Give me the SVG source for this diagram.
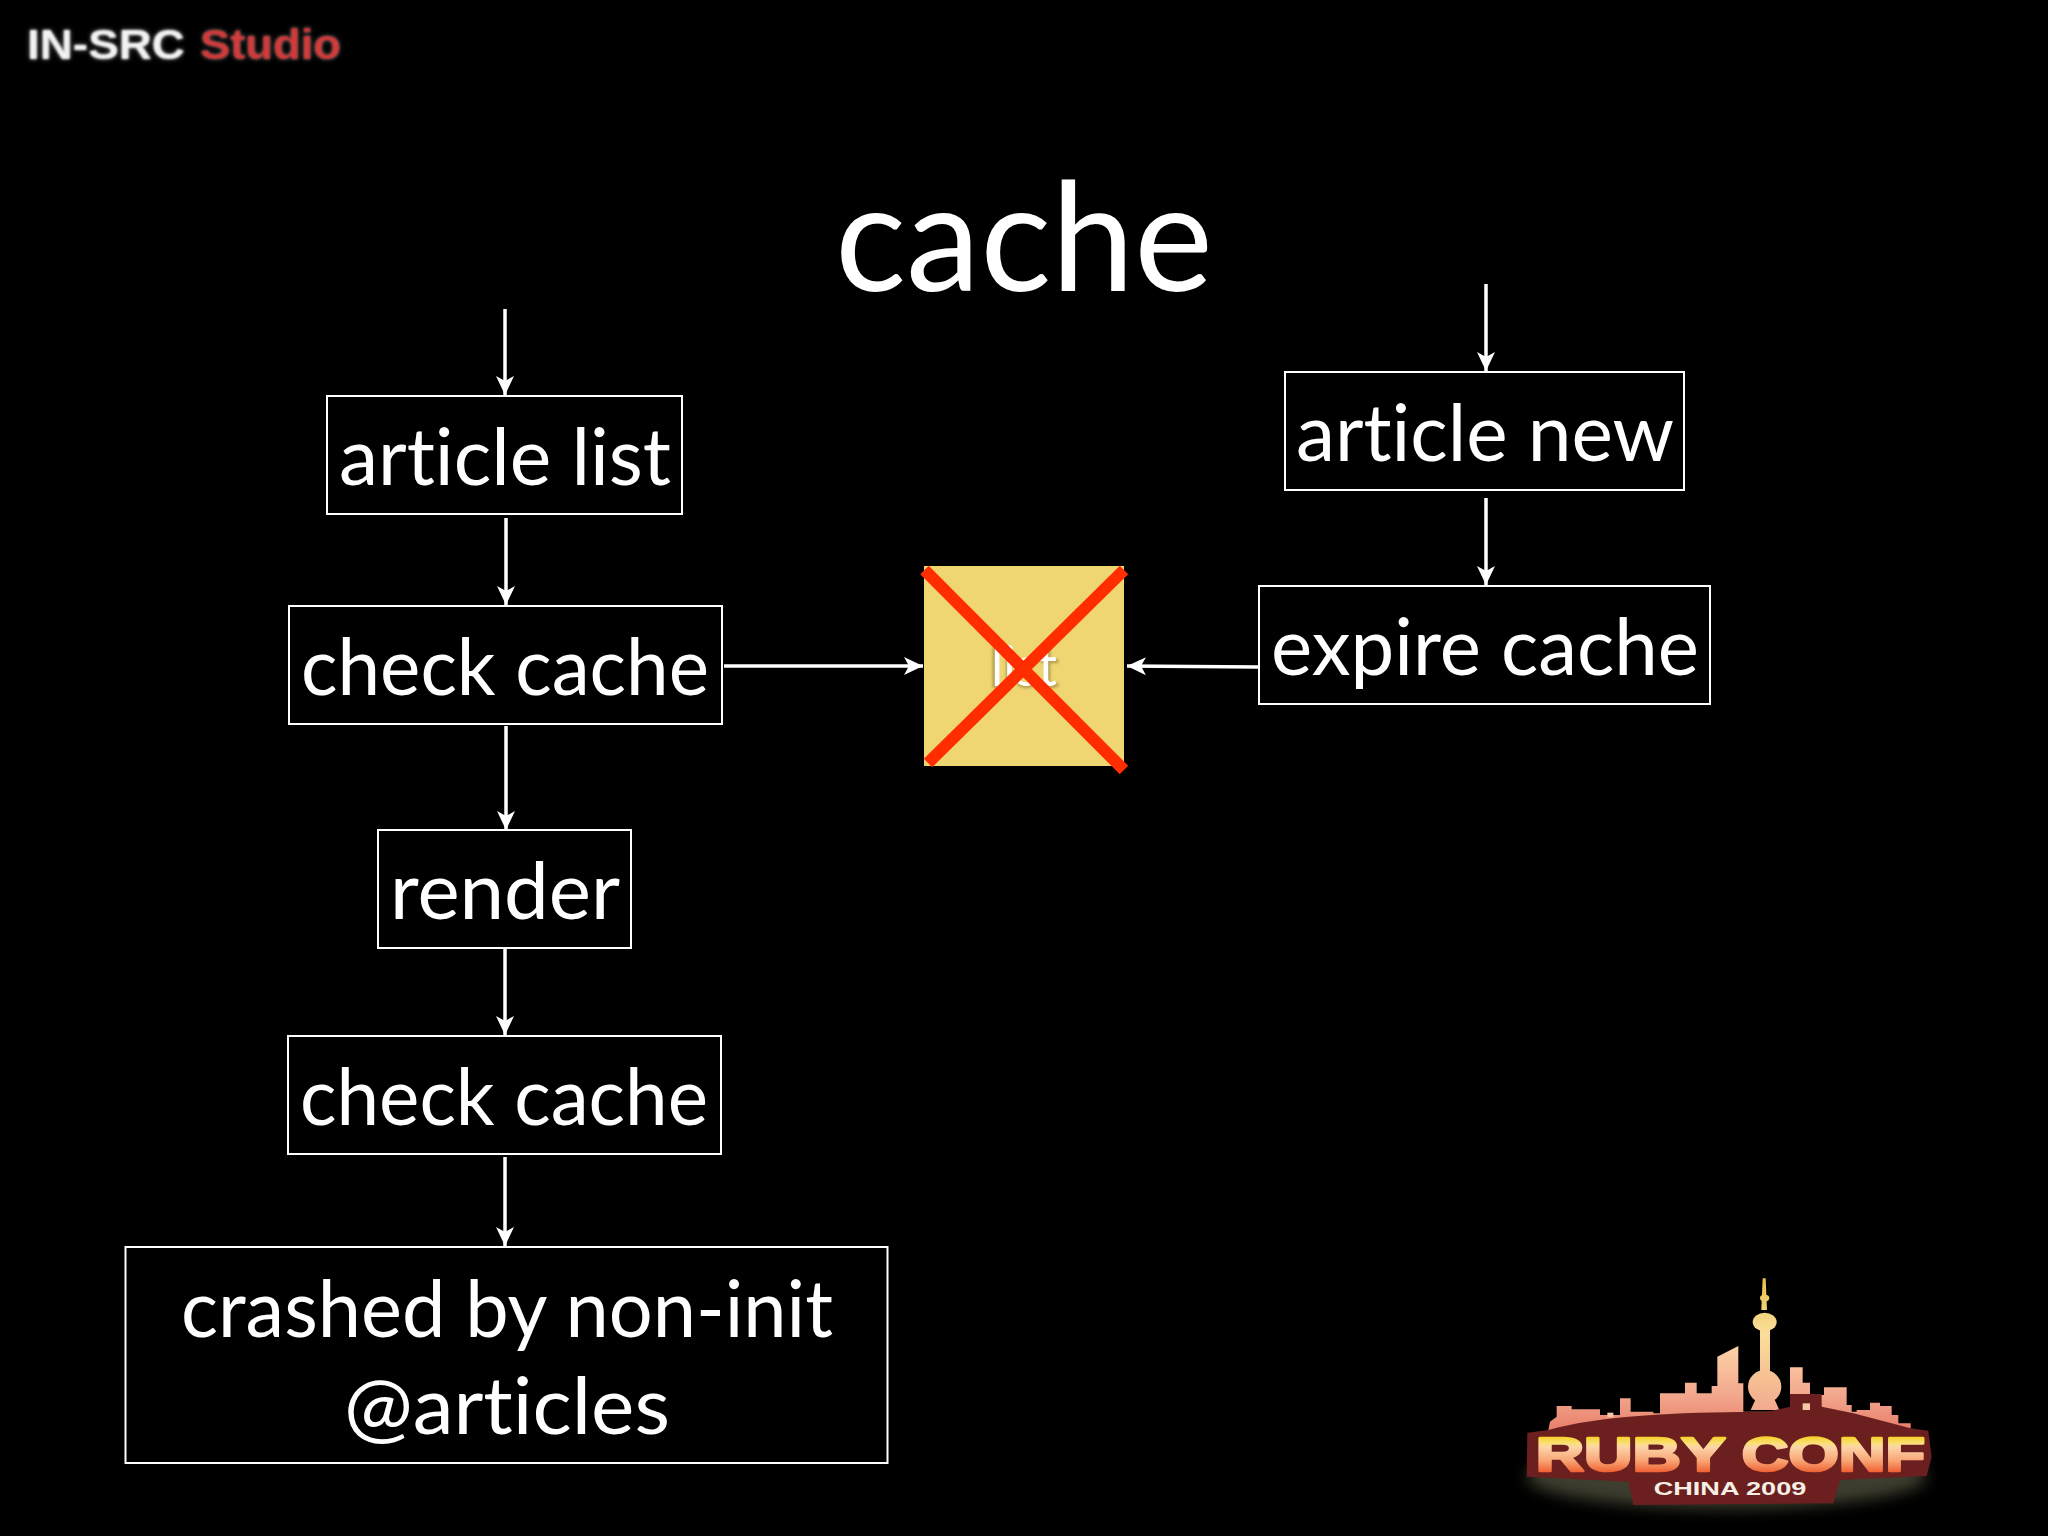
<svg xmlns="http://www.w3.org/2000/svg" width="2048" height="1536" viewBox="0 0 2048 1536">
<style>
text{font-variant-ligatures:none}
.box{fill:#000;stroke:#fff;stroke-width:2}
.t{font-family:"Lato","Noto Sans",sans-serif;font-size:79px;fill:#fff;text-anchor:middle}
.c{stroke:#fff;stroke-width:3.500;fill:none;marker-end:url(#a)}
.wm{font-family:"Liberation Sans",Arial,sans-serif;font-weight:700;font-size:42px}
.lg{font-family:"Liberation Sans",Arial,sans-serif;font-weight:700}
</style>
<defs>
<marker id="a" viewBox="0 0 20 20" refX="19" refY="10" markerWidth="20" markerHeight="20" markerUnits="userSpaceOnUse" orient="auto"><path d="M0 1 L19 10 L0 19 L5 10Z" fill="#fff"/></marker>
<filter id="b1" x="-20%" y="-50%" width="140%" height="200%"><feGaussianBlur stdDeviation="1.3"/></filter>
<filter id="b3" x="-20%" y="-50%" width="140%" height="200%"><feGaussianBlur stdDeviation="2.5"/></filter>
<filter id="glow" x="-20%" y="-40%" width="140%" height="180%"><feGaussianBlur stdDeviation="22"/></filter>
<filter id="tglow" x="-50%" y="-20%" width="200%" height="140%"><feGaussianBlur stdDeviation="9"/></filter>
<filter id="sh" x="-30%" y="-30%" width="160%" height="160%"><feGaussianBlur stdDeviation="1.5"/></filter>
<linearGradient id="txt" gradientUnits="userSpaceOnUse" x1="0" y1="528" x2="0" y2="640"><stop offset="0" stop-color="#f5cf1e"/><stop offset=".2" stop-color="#fbe07a"/><stop offset=".3" stop-color="#fcd4a8"/><stop offset=".65" stop-color="#f9a777"/><stop offset="1" stop-color="#ee5a2c"/></linearGradient>
<linearGradient id="sky" gradientUnits="userSpaceOnUse" x1="0" y1="250" x2="0" y2="500"><stop offset="0" stop-color="#fcd6a8"/><stop offset=".6" stop-color="#f3a98e"/><stop offset="1" stop-color="#e9826f"/></linearGradient>
<linearGradient id="tower" gradientUnits="userSpaceOnUse" x1="0" y1="60" x2="0" y2="460"><stop offset="0" stop-color="#e8c14e"/><stop offset=".4" stop-color="#fbdf9a"/><stop offset="1" stop-color="#f2a78e"/></linearGradient>
</defs>
<rect width="2048" height="1536" fill="#000"/>

<g id="watermark">
<text class="wm" x="27" y="59" fill="#fff" filter="url(#b3)" opacity=".5" textLength="158" lengthAdjust="spacingAndGlyphs">IN-SRC</text>
<text class="wm" x="27" y="59" fill="#f2f2f2" filter="url(#b1)" textLength="158" lengthAdjust="spacingAndGlyphs">IN-SRC</text>
<text class="wm" x="200" y="59" fill="#999" filter="url(#b3)" opacity=".6" textLength="141" lengthAdjust="spacingAndGlyphs">Studio</text>
<text class="wm" x="200" y="59" fill="#d23a3a" filter="url(#b1)" textLength="141" lengthAdjust="spacingAndGlyphs">Studio</text>
</g>

<text id="title" x="1024" y="291" style="font-family:Lato,'Noto Sans',sans-serif;font-size:152px;fill:#fff;text-anchor:middle" textLength="378" lengthAdjust="spacingAndGlyphs">cache</text>

<g id="connectors">
<path class="c" d="M505 309V395"/>
<path class="c" d="M506 518V605"/>
<path class="c" d="M506 726V830"/>
<path class="c" d="M505 949V1035"/>
<path class="c" d="M505 1157V1246"/>
<path class="c" d="M1486 284V371"/>
<path class="c" d="M1486 498V585"/>
<path class="c" d="M724 666H923"/>
<path class="c" d="M1258 667L1127 666"/>
</g>

<g id="article-list"><rect class="box" x="327" y="396" width="355" height="118"/><text class="t" x="505" y="485" textLength="332" lengthAdjust="spacingAndGlyphs">article list</text></g>
<g id="check-cache-1"><rect class="box" x="289" y="606" width="433" height="118"/><text class="t" x="505" y="695" textLength="408" lengthAdjust="spacingAndGlyphs">check cache</text></g>
<g id="render"><rect class="box" x="378" y="830" width="253" height="118"/><text class="t" x="505" y="919" textLength="230" lengthAdjust="spacingAndGlyphs">render</text></g>
<g id="check-cache-2"><rect class="box" x="288" y="1036" width="433" height="118"/><text class="t" x="504" y="1125" textLength="408" lengthAdjust="spacingAndGlyphs">check cache</text></g>
<g id="crashed"><rect class="box" x="125.500" y="1247" width="762" height="216"/><text class="t" x="507" y="1337" textLength="652" lengthAdjust="spacingAndGlyphs">crashed by non-init</text><text class="t" x="507" y="1434" textLength="326" lengthAdjust="spacingAndGlyphs">@articles</text></g>
<g id="article-new"><rect class="box" x="1285" y="372" width="399" height="118"/><text class="t" x="1485" y="461" textLength="378" lengthAdjust="spacingAndGlyphs">article new</text></g>
<g id="expire-cache"><rect class="box" x="1259" y="586" width="451" height="118"/><text class="t" x="1485" y="675" textLength="428" lengthAdjust="spacingAndGlyphs">expire cache</text></g>

<g id="list">
<rect x="924" y="566" width="200" height="200" fill="#f0d673"/>
<text x="1024" y="688" style="font-family:Lato,'Noto Sans',sans-serif;font-size:56px;fill:#6b5a20;text-anchor:middle" opacity=".5" filter="url(#sh)">list</text>
<text x="1024" y="686" style="font-family:Lato,'Noto Sans',sans-serif;font-size:56px;fill:#fff;text-anchor:middle" textLength="66" lengthAdjust="spacingAndGlyphs">list</text>
<path d="M924.500 570L1124 770M1124 570L928 763" stroke="#ff2d00" stroke-width="12" fill="none"/>
</g>

<g id="ruby-conf-logo" transform="translate(1500 1260) scale(.33333)">
<ellipse cx="680" cy="650" rx="600" ry="95" fill="#8a8a6a" opacity=".45" filter="url(#glow)"/>
<path d="M793 60L793 450" stroke="#a8955a" stroke-width="34" opacity=".45" filter="url(#tglow)"/>
<path fill="url(#sky)" d="M145 510L150 485L170 470V438H215V448H300V465H360V415H392V455H460V460H480V400H555V368H590V400H635V378H652V290L715 258V370H730V455H1070V450H1110V428H1140V438H1175V465H1195V490H1232V515Z"/>
<path fill="url(#sky)" d="M870 322H908V368H930V405H972V382H1040V435H1055V460H870Z"/>
<g fill="url(#tower)">
<path d="M788 55H797L801 150H784Z"/>
<ellipse cx="794" cy="114" rx="14" ry="10"/>
<ellipse cx="794" cy="186" rx="36" ry="28"/>
<rect x="780" y="200" width="30" height="150"/>
<circle cx="794" cy="380" r="50"/>
<path d="M770 410H820L838 450H752Z"/>
</g>
<path fill="#6b1f1f" d="M82 518L145 510C300 465 560 455 800 456L870 440V402H965V440L1060 460L1232 505L1285 512L1295 592L1280 648L1020 660L1000 730L400 735L385 665L80 650Z"/>
<rect x="908" y="430" width="22" height="20" fill="#f6c8a8"/>
<rect x="322" y="458" width="18" height="14" fill="#f6c8a8"/>
<text class="lg" x="392" y="632" font-size="146" text-anchor="middle" fill="url(#txt)" stroke="url(#txt)" stroke-width="8" stroke-linejoin="round" textLength="570" lengthAdjust="spacingAndGlyphs">RUBY</text>
<text class="lg" x="1000" y="632" font-size="146" text-anchor="middle" fill="url(#txt)" stroke="url(#txt)" stroke-width="8" stroke-linejoin="round" textLength="550" lengthAdjust="spacingAndGlyphs">CONF</text>
<text class="lg" x="690" y="705" font-size="54" text-anchor="middle" fill="#f6efe6" textLength="458" lengthAdjust="spacingAndGlyphs">CHINA 2009</text>
</g>
</svg>
